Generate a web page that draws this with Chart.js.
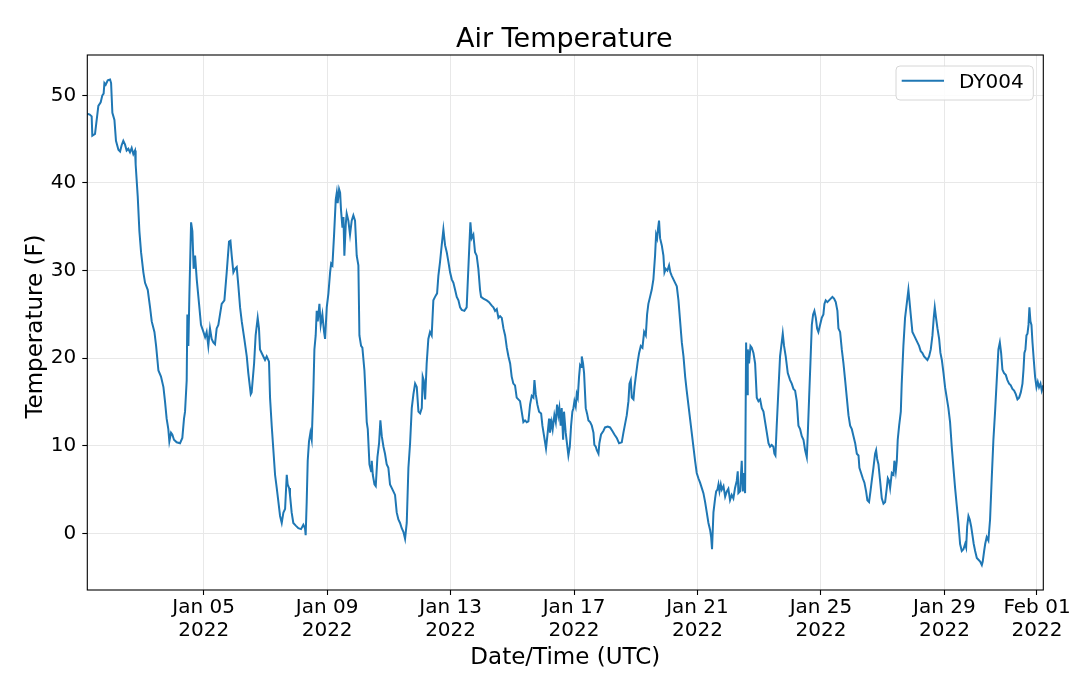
<!DOCTYPE html>
<html>
<head>
<meta charset="utf-8">
<script src="https://cdn.jsdelivr.net/npm/chart.js@4.4.1/dist/chart.umd.min.js"></script>
<style>
  html, body { margin: 0; padding: 0; background: #ffffff; }
  #wrap { width: 1080px; height: 683px; }
  canvas { display: block; }
</style>
</head>
<body>
<div id="wrap"><canvas id="c" width="1080" height="683"></canvas></div>
<script>
// ---- Data (hours since 2022-01-01 00:00 UTC, air temperature in F) ----
const chartTitle = 'Air Temperature';
const seriesName = 'DY004';
const xAxisTitle = 'Date/Time (UTC)';
const yAxisTitle = 'Temperature (F)';

const timeHours = [
  5.5, 7.4, 8.9, 9.4, 11.5, 12.8, 14.1, 15.9, 17.2, 18.2, 18.8, 19.8, 21.4, 23.2, 24.0, 25.0, 26.6, 27.8, 29.7, 31.0,
  32.2, 33.5, 34.8, 36.1, 37.4, 38.7, 40.0, 41.3, 42.6, 43.1, 44.7, 46.0, 47.3, 49.1, 50.4, 52.5, 54.3, 55.6, 57.7, 59.0,
  60.8, 62.8, 64.7, 65.9, 67.2, 68.5, 69.3, 70.6, 71.6, 72.9, 75.0, 77.6, 79.4, 80.7, 81.5, 82.8, 83.3, 84.1, 84.9, 86.2,
  87.2, 88.2, 89.3, 90.6, 92.4, 93.9, 95.8, 97.1, 98.3, 99.6, 100.9, 102.2, 103.5, 104.8, 106.1, 107.4, 108.7, 110.0, 112.1, 113.9,
  115.7, 116.8, 117.8, 119.1, 120.4, 121.7, 123.0, 124.3, 125.6, 127.6, 129.5, 130.7, 132.6, 133.3, 135.2, 136.4, 138.0, 139.0, 139.8, 141.1,
  142.4, 143.7, 145.0, 146.8, 147.6, 148.9, 150.2, 151.5, 152.8, 154.1, 155.4, 156.7, 158.0, 159.3, 160.6, 161.3, 162.4, 163.1, 164.4, 165.7,
  167.6, 169.6, 171.7, 173.5, 174.8, 175.3, 176.1, 176.9, 177.9, 179.0, 180.0, 181.3, 182.1, 183.1, 183.9, 184.7, 186.0, 187.0, 188.3, 189.6,
  190.4, 191.7, 193.0, 194.3, 195.1, 196.1, 197.4, 198.7, 199.5, 200.2, 201.3, 202.1, 202.8, 203.9, 204.7, 205.4, 206.5, 207.2, 208.5, 209.8,
  211.1, 212.4, 213.7, 215.0, 216.3, 217.1, 218.4, 219.4, 221.0, 222.0, 222.8, 223.6, 224.9, 226.2, 226.7, 227.5, 228.8, 229.8, 231.1, 232.4,
  233.4, 234.5, 235.8, 237.0, 238.3, 239.6, 240.9, 242.2, 243.5, 244.8, 246.1, 247.4, 248.7, 250.0, 251.3, 252.6, 253.9, 255.2, 256.5, 257.8,
  259.1, 260.4, 261.7, 263.0, 264.3, 265.6, 266.3, 267.1, 268.2, 269.4, 270.7, 272.0, 273.3, 274.6, 275.9, 277.5, 278.5, 279.8, 281.1, 282.4,
  283.7, 285.0, 286.3, 287.6, 288.9, 290.2, 291.5, 292.8, 294.1, 295.4, 296.7, 298.7, 300.5, 301.8, 302.6, 303.4, 304.4, 305.7, 307.0, 308.3,
  309.6, 310.9, 311.7, 313.5, 316.1, 317.9, 320.0, 321.3, 322.6, 323.9, 325.2, 326.5, 327.8, 329.1, 330.4, 331.7, 333.0, 334.3, 335.5, 336.8,
  338.1, 339.4, 340.7, 342.0, 343.3, 344.6, 345.9, 347.2, 348.5, 349.8, 351.1, 352.4, 353.2, 354.2, 355.5, 356.8, 358.4, 359.4, 360.7, 362.2,
  363.5, 364.6, 365.3, 366.6, 367.4, 368.7, 369.8, 370.8, 371.8, 372.6, 373.6, 374.4, 375.5, 376.2, 377.5,
  379.6, 380.7, 381.7, 382.7, 383.5, 384.3, 385.3, 386.1, 386.9, 387.9, 388.7, 389.5, 390.0, 391.0, 391.8, 393.1, 394.1, 395.2, 396.5, 397.8,
  399.1, 399.8, 400.9, 401.7, 403.0, 403.7, 405.0, 406.8, 408.1, 410.2, 412.0, 413.8, 415.4, 417.2, 419.0, 421.1, 422.4, 423.7, 425.0, 426.3,
  427.1, 428.1, 428.9, 430.2, 431.0, 432.0, 433.5, 434.6, 435.9, 437.2, 438.5, 439.8, 440.8, 441.8, 443.1, 444.4, 445.7, 447.0, 447.8, 448.6,
  449.4, 450.1, 450.9, 452.2, 453.5, 454.3, 455.3, 456.6, 457.9, 458.9, 460.0, 461.3, 462.6, 463.9, 465.2, 466.5, 467.8, 469.1, 470.4, 471.6,
  472.9, 474.2, 475.5, 476.8, 478.1, 479.4, 480.7, 482.0, 483.3, 484.6, 485.9, 487.2, 488.5, 489.8, 490.6, 491.3, 492.4, 493.7, 494.5, 495.5,
  496.3, 497.1, 498.1, 498.9, 500.2, 501.5, 502.8, 504.0, 505.3, 506.6, 507.9, 509.2, 510.5, 511.3, 511.8, 513.1, 514.4, 515.2, 516.0, 517.0,
  517.8, 518.6, 519.1, 520.1, 521.2, 522.2, 523.5, 524.8, 526.1, 527.4, 528.7, 530.0, 531.3, 532.6, 533.9, 535.2, 536.4, 537.7, 539.0, 539.8,
  540.6, 541.6, 542.9, 544.2, 545.5, 546.3, 547.3, 548.6, 550.2, 552.0, 553.3, 554.6, 555.9, 557.2, 558.5, 559.8, 561.1, 562.4, 563.7, 565.0,
  565.8, 566.8, 567.8, 568.9, 569.9, 570.9, 572.0, 573.0, 574.0, 575.3, 576.6, 577.9, 578.7, 579.7, 581.0, 582.3, 583.6, 584.9, 586.2, 587.5,
  588.8, 589.6, 590.9, 592.2, 593.5, 594.8, 596.1, 597.4, 598.7, 600.0, 601.3, 602.6, 603.9, 605.2, 605.9, 607.2, 608.5, 609.8, 611.1, 612.1,
  613.4, 614.5, 615.5, 616.8, 618.1, 618.9, 619.7, 620.7, 622.0, 623.3, 624.6, 625.9, 627.2, 628.0, 629.0, 629.8, 631.1, 632.4, 633.1, 634.2,
  635.0, 635.7, 636.8, 638.1, 638.8, 640.1, 641.4, 642.7, 644.0, 644.8, 645.8, 647.1, 648.4, 649.7, 651.0, 652.3, 653.6, 654.9, 656.2, 657.5,
  658.8, 660.1, 661.4, 662.7, 663.7, 664.5, 665.5, 666.6, 667.9, 668.9, 670.0, 671.3, 672.5, 673.8, 675.1, 676.4, 677.7, 679.0, 680.3, 681.6,
  682.9, 684.2, 685.5, 686.8, 688.1, 688.9, 689.7, 690.7, 691.7, 692.8, 693.8, 694.8, 695.9, 697.2, 698.5, 699.8, 701.1, 701.8, 702.9, 703.7,
  704.9, 706.2, 707.5, 708.8, 710.1, 711.4, 712.7, 714.0, 715.1, 716.1, 717.1, 718.4, 719.7, 721.0, 722.3, 723.6, 724.9, 726.2, 727.5, 728.8,
  730.1, 731.4, 732.7, 733.5, 734.2, 735.0, 735.8, 736.6, 737.4, 738.1, 738.9, 739.7, 740.5, 741.5, 742.5, 743.6, 744.6, 745.6, 746.7, 747.7,
  748.9
];

const airTempF = [
  47.9, 47.8, 47.6, 45.4, 45.6, 47.2, 48.8, 49.2, 50.0, 50.2, 51.4, 51.2, 51.7, 51.8, 51.4, 48.0, 47.2, 44.8, 43.8, 43.6,
  44.3, 44.8, 44.4, 43.7, 43.9, 43.5, 44.0, 43.3, 43.7, 42.1, 38.5, 34.5, 32.1, 29.8, 28.6, 27.8, 25.8, 24.2, 23.0, 21.4,
  18.6, 17.9, 16.7, 15.1, 13.1, 11.9, 10.5, 11.5, 11.3, 10.7, 10.4, 10.3, 10.9, 13.1, 13.9, 17.5, 25.0, 21.4, 27.4, 35.5,
  34.5, 30.2, 31.7, 29.0, 26.2, 23.8, 23.0, 22.4, 23.0, 21.4, 23.4, 22.2, 21.8, 21.6, 23.4, 23.8, 25.0, 26.2, 26.6, 29.8,
  33.3, 33.4, 31.7, 29.8, 30.2, 30.4, 28.2, 25.8, 24.2, 22.2, 20.2, 18.3, 15.9, 16.1, 19.4, 22.6, 24.6, 23.4, 21.0, 20.6,
  20.2, 19.8, 20.2, 19.6, 15.5, 12.3, 9.5, 6.7, 5.2, 3.6, 2.0, 1.2, 2.4, 2.8, 6.7, 5.6, 5.2, 4.4, 2.4, 1.2,
  0.9, 0.6, 0.5, 1.0, 0.6, -0.2, 3.6, 8.3, 10.5, 11.5, 10.7, 16.3, 21.0, 22.6, 25.4, 24.2, 26.2, 23.8, 25.0, 23.0,
  22.2, 25.8, 27.4, 29.8, 30.8, 30.6, 34.1, 38.1, 38.9, 37.7, 39.3, 38.9, 36.9, 34.9, 36.1, 31.7, 35.3, 36.5, 35.7, 34.1,
  35.7, 36.3, 35.7, 31.7, 30.6, 22.6, 21.4, 21.2, 18.6, 15.5, 12.7, 11.9, 7.9, 7.1, 8.3, 6.7, 5.6, 5.4, 8.7, 10.3,
  12.9, 11.1, 9.9, 9.1, 7.9, 7.5, 5.6, 5.2, 4.8, 4.4, 2.4, 1.6, 1.2, 0.6, 0.2, -0.6, 1.2, 7.5, 10.3, 14.3,
  15.9, 17.1, 16.7, 13.9, 13.7, 14.3, 17.9, 17.5, 15.3, 19.4, 22.2, 23.0, 22.6, 26.6, 27.0, 27.4, 29.4, 31.0, 32.9, 34.7,
  32.9, 32.1, 31.0, 29.8, 29.0, 28.6, 27.8, 27.0, 26.6, 25.8, 25.5, 25.4, 25.8, 30.2, 32.9, 35.5, 33.7, 34.1, 32.1, 31.7,
  30.2, 27.8, 27.0, 26.8, 26.6, 26.4, 26.0, 25.8, 25.4, 25.6, 24.6, 24.8, 24.6, 23.4, 22.6, 21.2, 20.2, 19.4, 17.9, 17.1,
  16.9, 15.5, 15.3, 15.1, 13.9, 12.7, 12.9, 12.7, 12.8, 14.7, 15.7, 15.5, 17.5, 15.9, 14.7, 13.9, 13.7, 12.3, 11.1, 9.7,
  11.5, 13.1, 11.5, 12.7, 11.9, 13.5, 12.7, 14.7, 13.5, 14.3, 12.3, 14.3, 10.7, 13.9, 11.5,
  8.9, 9.9, 12.3, 13.9, 14.3, 15.1, 14.5, 15.9, 15.5, 17.9, 19.2, 19.0, 20.2, 19.4, 18.3, 14.3, 13.7, 12.9, 12.7, 12.3,
  11.5, 10.1, 9.9, 9.5, 9.1, 10.3, 11.3, 11.7, 12.1, 12.2, 12.1, 11.7, 11.3, 10.9, 10.3, 10.4, 11.5, 12.5, 13.5, 15.1,
  17.1, 17.5, 15.5, 15.3, 16.7, 17.9, 19.6, 20.6, 21.4, 21.2, 23.0, 22.6, 25.0, 26.2, 27.0, 27.8, 29.0, 31.7, 34.1, 33.7,
  34.9, 35.7, 33.7, 32.9, 31.7, 29.8, 30.2, 30.0, 30.6, 29.8, 29.4, 29.0, 28.6, 28.2, 26.6, 24.2, 21.8, 20.2, 17.9, 16.3,
  14.7, 13.1, 11.5, 9.9, 8.3, 6.9, 6.3, 5.8, 5.2, 4.6, 3.6, 2.4, 1.2, 0.4, -0.4, -1.8, 2.4, 4.0, 4.8, 5.0,
  5.6, 4.8, 5.6, 5.0, 5.4, 4.2, 4.8, 5.1, 3.8, 4.4, 4.0, 5.2, 6.0, 7.1, 4.6, 4.8, 8.3, 4.8, 6.9, 4.6,
  21.8, 15.9, 21.0, 19.4, 21.4, 21.2, 20.6, 19.4, 15.5, 15.1, 15.3, 14.3, 13.9, 12.7, 11.5, 10.3, 9.9, 10.1, 9.9, 9.1,
  8.9, 12.3, 16.3, 20.2, 21.8, 22.8, 21.4, 20.2, 18.3, 17.5, 17.1, 16.5, 16.3, 15.1, 12.3, 11.9, 11.1, 10.7, 9.5, 8.7,
  11.5, 15.5, 19.4, 23.8, 25.0, 25.4, 24.6, 23.4, 23.0, 23.8, 24.6, 25.0, 26.2, 26.6, 26.4, 26.6, 26.8, 27.0, 26.8, 26.4,
  25.4, 23.4, 23.0, 21.0, 19.4, 17.5, 15.5, 13.5, 12.3, 11.9, 11.1, 10.3, 9.1, 8.9, 7.5, 6.9, 6.3, 5.8, 4.8, 3.8,
  3.6, 4.8, 6.0, 7.5, 9.1, 9.5, 8.5, 7.9, 6.0, 4.0, 3.4, 3.6, 5.2, 6.3, 6.0, 5.2, 6.9, 6.7, 8.3, 7.1,
  8.3, 10.7, 12.3, 13.9, 17.1, 21.4, 24.6, 26.2, 27.8, 26.6, 25.0, 23.0, 22.6, 22.2, 21.8, 21.4, 20.8, 20.6, 20.2, 20.0,
  19.8, 20.2, 21.0, 22.6, 24.6, 25.8, 24.6, 23.4, 22.2, 20.6, 19.8, 18.3, 16.7, 15.5, 14.3, 12.7, 9.9, 7.5, 5.2, 3.2,
  1.2, -1.2, -2.0, -1.8, -1.2, -1.6, 0.8, 2.0, 1.6, 0.8, -0.2, -1.2, -2.0, -2.8, -3.0, -3.2, -3.6, -3.2, -2.0, -1.2,
  -0.4, -0.8, 1.6, 6.3, 10.7, 13.9, 17.5, 21.0, 21.8, 20.6, 18.7, 18.3, 18.1, 17.5, 17.1, 16.9, 16.5, 16.3, 15.9, 15.3,
  15.5, 16.1, 17.1, 18.7, 20.6, 21.0, 22.6, 22.8, 23.8, 25.8, 24.2, 23.8, 21.8, 19.8, 17.9, 16.7, 17.3, 16.7, 17.1, 16.3,
  16.9
];

// Tick positions (hours since 2022-01-01 00:00 UTC) and labels
const xTickHours = [96, 192, 288, 384, 480, 576, 672, 744];
const xTickLabels = [
  ['Jan 05', '2022'], ['Jan 09', '2022'], ['Jan 13', '2022'], ['Jan 17', '2022'],
  ['Jan 21', '2022'], ['Jan 25', '2022'], ['Jan 29', '2022'], ['Feb 01', '2022']
];
const yTickValues = [0, 10, 20, 30, 40, 50];

// ---- Chart ----
const FONT = '"DejaVu Sans", "Liberation Sans", sans-serif';
const points = timeHours.map((h, i) => ({ x: h, y: airTempF[i] }));

const decorations = {
  id: 'decorations',
  afterDatasetsDraw(chart) {
    const { ctx, chartArea: a } = chart;
    ctx.save();
    // axes frame (all four spines)
    ctx.strokeStyle = '#000000';
    ctx.lineWidth = 1.1;
    ctx.strokeRect(a.left, a.top, a.right - a.left, a.bottom - a.top);
    ctx.restore();
  },
  afterDraw(chart) {
    const { ctx, chartArea: a } = chart;
    const cx = (a.left + a.right) / 2;
    ctx.save();
    ctx.fillStyle = '#000000';
    ctx.textBaseline = 'alphabetic';

    // title
    ctx.font = '27px ' + FONT;
    ctx.textAlign = 'center';
    ctx.fillText(chartTitle, cx - 1, 47);

    // x axis title
    ctx.font = '23px ' + FONT;
    ctx.fillText(xAxisTitle, cx, 664);

    // y axis title (rotated)
    ctx.save();
    ctx.translate(41.5, (a.top + a.bottom) / 2 + 4);
    ctx.rotate(-Math.PI / 2);
    ctx.textAlign = 'center';
    ctx.fillText(yAxisTitle, 0, 0);
    ctx.restore();

    // legend (upper right, inside the axes)
    const ds = chart.data.datasets[0];
    const bw = 137.3, bh = 34;
    const bx = a.right - 10 - bw, by = a.top + 11;
    ctx.beginPath();
    if (ctx.roundRect) ctx.roundRect(bx, by, bw, bh, 4); else ctx.rect(bx, by, bw, bh);
    ctx.fillStyle = 'rgba(255,255,255,0.85)';
    ctx.fill();
    ctx.strokeStyle = '#d6d6d6';
    ctx.lineWidth = 1;
    ctx.stroke();
    ctx.beginPath();
    ctx.moveTo(bx + 5.7, by + 14.7);
    ctx.lineTo(bx + 48, by + 14.7);
    ctx.strokeStyle = ds.borderColor;
    ctx.lineWidth = 2;
    ctx.stroke();
    ctx.fillStyle = '#000000';
    ctx.font = '20px ' + FONT;
    ctx.textAlign = 'left';
    ctx.fillText(ds.label, bx + 63, by + 22.3);
    ctx.restore();
  }
};

const gridStyle = {
  color: '#e8e8e8',
  lineWidth: 1,
  drawTicks: true,
  tickColor: '#000000',
  tickLength: 5,
  tickWidth: 1.1
};

new Chart(document.getElementById('c').getContext('2d'), {
  type: 'line',
  data: {
    datasets: [{
      label: seriesName,
      data: points,
      borderColor: '#1f77b4',
      backgroundColor: '#1f77b4',
      borderWidth: 2,
      pointRadius: 0,
      pointHoverRadius: 0,
      tension: 0,
      fill: false
    }]
  },
  options: {
    responsive: false,
    animation: false,
    events: [],
    layout: { padding: { top: 55, right: 36.7, bottom: 0, left: 0 } },
    plugins: {
      legend: { display: false },
      title: { display: false },
      tooltip: { enabled: false }
    },
    scales: {
      x: {
        type: 'linear',
        min: timeHours[0],
        max: timeHours[timeHours.length - 1],
        afterBuildTicks: (s) => { s.ticks = xTickHours.map(v => ({ value: v })); },
        afterFit: (s) => { s.height = 93; },
        ticks: {
          autoSkip: false,
          maxRotation: 0,
          minRotation: 0,
          padding: 1.5,
          color: '#000000',
          font: { family: FONT, size: 20, lineHeight: 1.13 },
          callback: (v) => xTickLabels[xTickHours.indexOf(v)] || ''
        },
        grid: gridStyle,
        border: { display: false },
        title: { display: false, text: xAxisTitle }
      },
      y: {
        type: 'linear',
        min: -6.45,
        max: 54.6,
        afterBuildTicks: (s) => { s.ticks = yTickValues.map(v => ({ value: v })); },
        afterFit: (s) => { s.width = 87.3; },
        ticks: {
          padding: 6,
          color: '#000000',
          font: { family: FONT, size: 20, lineHeight: 1.2 },
          callback: (v) => String(v)
        },
        grid: gridStyle,
        border: { display: false },
        title: { display: false, text: yAxisTitle }
      }
    }
  },
  plugins: [decorations]
});
</script>
</body>
</html>
